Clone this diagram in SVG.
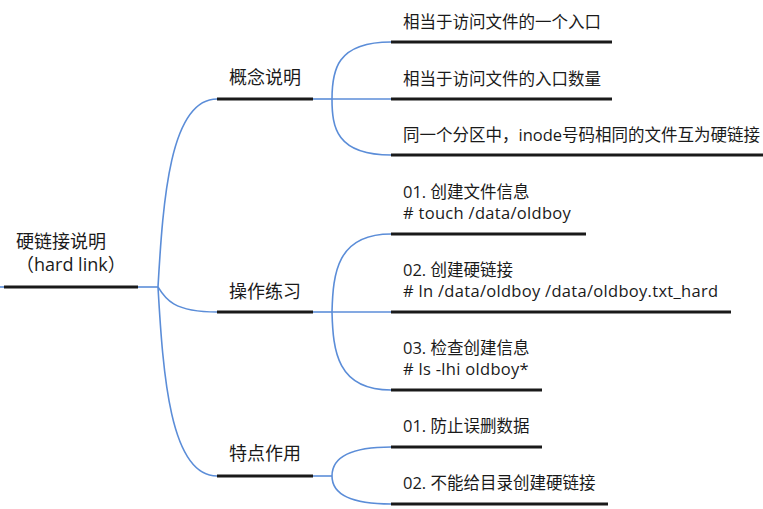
<svg xmlns="http://www.w3.org/2000/svg" width="763" height="509" viewBox="0 0 763 509">
<style>
  .conn { fill: none; stroke: #5b8dd8; stroke-width: 1.6; }
  .ul { stroke: #1a1a1a; stroke-width: 3; stroke-linecap: butt; }
  text { font-family: "Open Sans", "Noto Sans CJK SC", sans-serif; fill: #1a1a1a; }
  .main { font-size: 18px; }
  .sub { font-size: 16.5px; }
  .cmd { letter-spacing: 0.3px; }
</style>
<rect width="763" height="509" fill="#ffffff"/>
<g id="connectors">
  <path class="conn" d="M0,287 H4"/>
  <path class="conn" d="M138,287 H158"/>
  <path class="conn" d="M158,287 C163,200 170,99 217,99"/>
  <path class="conn" d="M158,287 C165,298.5 173,312 217,312"/>
  <path class="conn" d="M158,287 C163,374 170,476 217,476"/>
  <path class="conn" d="M313,99 H332"/>
  <path class="conn" d="M332,99 C332,71 336,42 391,42"/>
  <path class="conn" d="M332,99 H391"/>
  <path class="conn" d="M332,99 C332,127 336,155 391,155"/>
  <path class="conn" d="M313,312 H332"/>
  <path class="conn" d="M332,312 C333,273 337,234 391,234"/>
  <path class="conn" d="M332,312 H391"/>
  <path class="conn" d="M332,312 C333,351 337,390 391,390"/>
  <path class="conn" d="M313,476 H332"/>
  <path class="conn" d="M332,476 Q332,447 391,447"/>
  <path class="conn" d="M332,476 Q332,504 391,504"/>
</g>
<g id="root">
  <line class="ul" x1="4" y1="287" x2="138" y2="287"/>
  <text class="main" x="16" y="247.5">硬链接说明</text>
  <text class="main" x="16" y="270.5">（hard link）</text>
</g>
<g id="concept">
  <line class="ul" x1="217" y1="99" x2="313" y2="99"/>
  <text class="main" x="229" y="83.5">概念说明</text>
</g>
<g id="concept-1">
  <line class="ul" x1="391" y1="42" x2="612" y2="42"/>
  <text class="sub" x="403" y="28">相当于访问文件的一个入口</text>
</g>
<g id="concept-2">
  <line class="ul" x1="391" y1="99" x2="612" y2="99"/>
  <text class="sub" x="403" y="85">相当于访问文件的入口数量</text>
</g>
<g id="concept-3">
  <line class="ul" x1="391" y1="155" x2="763" y2="155"/>
  <text class="sub" x="403" y="141">同一个分区中，inode号码相同的文件互为硬链接</text>
</g>
<g id="practice">
  <line class="ul" x1="217" y1="312" x2="313" y2="312"/>
  <text class="main" x="229" y="297.5">操作练习</text>
</g>
<g id="practice-1">
  <line class="ul" x1="391" y1="234" x2="586" y2="234"/>
  <text class="sub" x="403" y="198">01. 创建文件信息</text>
  <text class="sub cmd" x="403" y="219"># touch /data/oldboy</text>
</g>
<g id="practice-2">
  <line class="ul" x1="391" y1="312" x2="731" y2="312"/>
  <text class="sub" x="403" y="276">02. 创建硬链接</text>
  <text class="sub cmd" x="403" y="297"># ln /data/oldboy /data/oldboy.txt_hard</text>
</g>
<g id="practice-3">
  <line class="ul" x1="391" y1="390" x2="542" y2="390"/>
  <text class="sub" x="403" y="353.5">03. 检查创建信息</text>
  <text class="sub cmd" x="403" y="375"># ls -lhi oldboy*</text>
</g>
<g id="feature">
  <line class="ul" x1="217" y1="476" x2="313" y2="476"/>
  <text class="main" x="229" y="460">特点作用</text>
</g>
<g id="feature-1">
  <line class="ul" x1="391" y1="447" x2="542" y2="447"/>
  <text class="sub" x="403" y="432">01. 防止误删数据</text>
</g>
<g id="feature-2">
  <line class="ul" x1="391" y1="504" x2="608" y2="504"/>
  <text class="sub" x="403" y="489">02. 不能给目录创建硬链接</text>
</g>
</svg>
